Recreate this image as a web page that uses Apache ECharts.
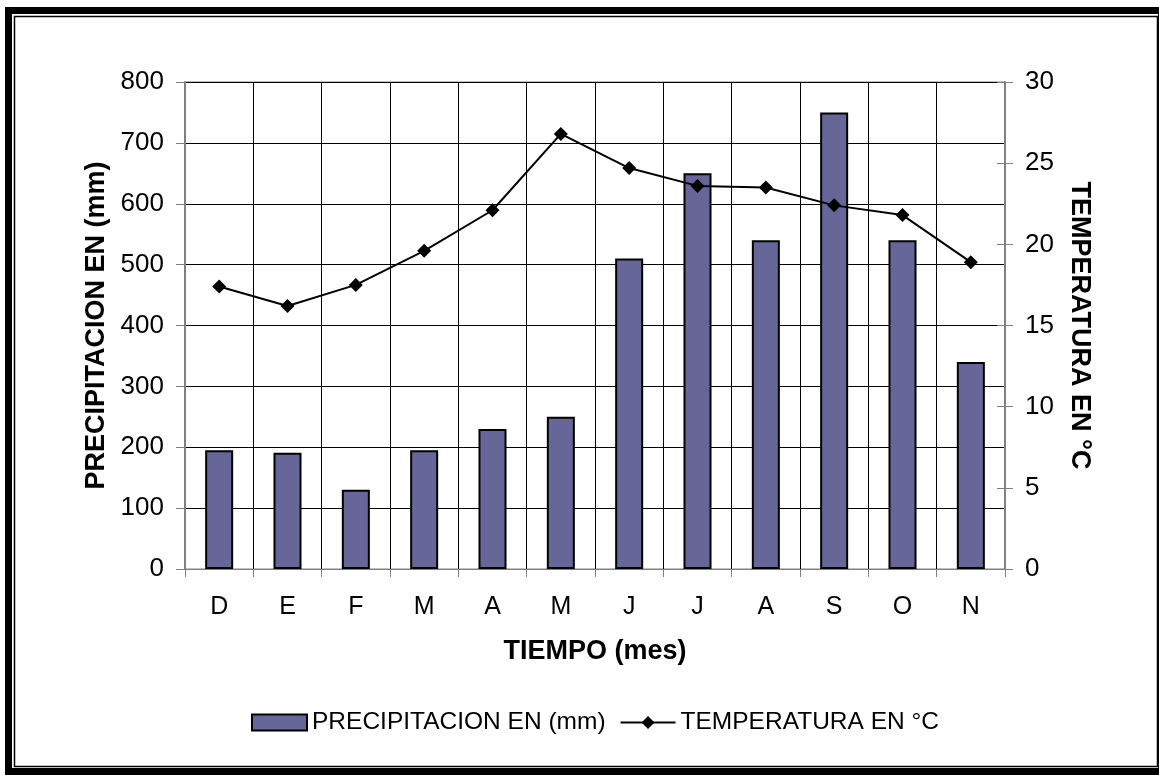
<!DOCTYPE html>
<html>
<head>
<meta charset="utf-8">
<script src="https://cdn.jsdelivr.net/npm/echarts@6/dist/echarts.min.js"></script>
<style>
html,body{margin:0;padding:0;background:#fff;}
#chart{width:1159px;height:775px;}
</style>
</head>
<body>
<div id="chart"></div>
<script>
const months = ['D','E','F','M','A','M','J','J','A','S','O','N'];
const precipitation = [195, 191, 130, 195, 230, 250, 510, 650, 540, 750, 540, 340];
const temperature = [17.4, 16.2, 17.5, 19.6, 22.1, 26.8, 24.7, 23.6, 23.5, 22.4, 21.8, 18.9];
const precipTicks = {min: 0, max: 800, interval: 100};
const tempTicks = {min: 0, max: 30, interval: 5};
const precipName = 'PRECIPITACION EN (mm)';
const tempName = 'TEMPERATURA EN °C';
const xName = 'TIEMPO (mes)';

const FONT = "'Liberation Sans', Arial, sans-serif";
const chart = echarts.init(document.getElementById('chart'), null, {renderer: 'canvas'});
chart.setOption({
  animation: false,
  backgroundColor: '#fff',
  textStyle: {fontFamily: FONT, color: '#000'},
  graphic: [
    {type: 'rect', z: -10, shape: {x: 5, y: 7, width: 1154, height: 768}, style: {fill: '#000'}},
    {type: 'rect', z: -9, shape: {x: 12, y: 14, width: 1146, height: 754}, style: {fill: '#fff'}},
    {type: 'rect', z: -8, shape: {x: 14.5, y: 16.5, width: 1143, height: 750}, style: {fill: 'none', stroke: '#000', lineWidth: 1.5}}
  ],
  grid: {left: 185, right: 154, top: 82, bottom: 206, show: true, borderColor: '#808080', borderWidth: 1, backgroundColor: 'transparent', containLabel: false},
  legend: {
    top: 705,
    left: 246,
    itemWidth: 55,
    itemHeight: 16,
    itemGap: 14,
    textStyle: {fontFamily: FONT, fontSize: 24.5, color: '#000'},
    data: [{name: precipName, icon: 'rect'}, {name: tempName}]
  },
  xAxis: {
    type: 'category',
    data: months,
    boundaryGap: true,
    name: xName,
    nameLocation: 'middle',
    nameGap: 69,
    nameTextStyle: {fontFamily: FONT, fontSize: 27, fontWeight: 'bold', color: '#000'},
    axisLine: {lineStyle: {color: '#808080', width: 1}},
    axisTick: {show: true, alignWithLabel: false, length: 8, lineStyle: {color: '#808080'}},
    axisLabel: {fontFamily: FONT, fontSize: 25, color: '#000', margin: 26},
    splitLine: {show: true, lineStyle: {color: '#000', width: 1}}
  },
  yAxis: [
    {
      type: 'value',
      position: 'left',
      min: precipTicks.min, max: precipTicks.max, interval: precipTicks.interval,
      name: precipName,
      nameLocation: 'middle',
      nameGap: 72,
      nameRotate: 90,
      nameTextStyle: {fontFamily: FONT, fontSize: 27, fontWeight: 'bold', color: '#000'},
      axisLine: {show: true, lineStyle: {color: '#808080', width: 2}},
      axisTick: {show: true, length: 9, lineStyle: {color: '#808080'}},
      axisLabel: {fontFamily: FONT, fontSize: 26, color: '#000', margin: 21},
      splitLine: {show: true, lineStyle: {color: '#000', width: 1}}
    },
    {
      type: 'value',
      position: 'right',
      min: tempTicks.min, max: tempTicks.max, interval: tempTicks.interval,
      name: tempName,
      nameLocation: 'middle',
      nameGap: 61,
      nameRotate: -90,
      nameTextStyle: {fontFamily: FONT, fontSize: 27, fontWeight: 'bold', color: '#000'},
      axisLine: {show: true, lineStyle: {color: '#808080', width: 2}},
      axisTick: {show: true, length: 8, lineStyle: {color: '#808080'}},
      axisLabel: {fontFamily: FONT, fontSize: 26, color: '#000', margin: 20},
      splitLine: {show: false}
    },
    {
      type: 'value',
      position: 'right',
      min: tempTicks.min, max: tempTicks.max, interval: tempTicks.interval,
      axisLine: {show: false},
      axisTick: {show: true, inside: true, length: 8, lineStyle: {color: '#808080'}},
      axisLabel: {show: false},
      splitLine: {show: false}
    }
  ],
  series: [
    {
      name: precipName,
      type: 'bar',
      yAxisIndex: 0,
      data: precipitation,
      barWidth: '41%',
      itemStyle: {color: '#666699', borderColor: '#000', borderWidth: 2}
    },
    {
      name: tempName,
      type: 'line',
      yAxisIndex: 1,
      data: temperature,
      symbol: 'diamond',
      symbolSize: 14,
      lineStyle: {color: '#000', width: 2},
      itemStyle: {color: '#000'}
    }
  ]
});
</script>
</body>
</html>
